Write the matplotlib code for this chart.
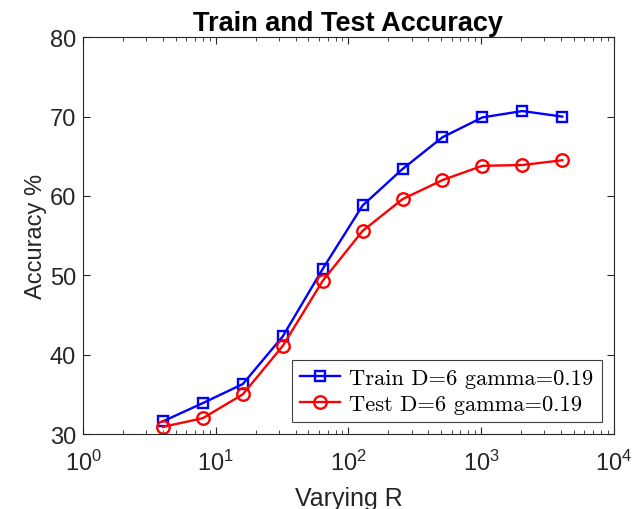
import numpy as np
import matplotlib.pyplot as plt

# number of random features R and accuracies (%)
R = [4, 8, 16, 32, 64, 128, 256, 512, 1024, 2048, 4096]
train_acc = [31.6, 33.9, 36.3, 42.3, 50.8, 58.8, 63.4, 67.4, 69.9, 70.7, 70.0]
test_acc = [30.9, 32.0, 35.0, 41.1, 49.3, 55.6, 59.6, 62.0, 63.8, 63.9, 64.5]

plt.rcParams['font.family'] = ['Liberation Sans', 'DejaVu Sans']
plt.rcParams['mathtext.default'] = 'regular'


def plot_accuracy():
    fig = plt.figure(figsize=(6.34, 5.10), dpi=100)
    ax = fig.add_axes([0.131, 0.147, 0.837, 0.778])

    ax.semilogx(R, train_acc, '-s', color='blue', lw=1.7, ms=7.5,
                mfc='none', mew=1.7, label='Train D=6 gamma=0.19')
    ax.semilogx(R, test_acc, '-o', color='red', lw=1.7, ms=9,
                mfc='none', mew=1.7, label='Test D=6 gamma=0.19')

    ax.set_xlim(1, 1e4)
    ax.set_ylim(30, 80)
    ax.set_yticks(np.arange(30, 81, 10))
    ax.tick_params(which='both', direction='in', top=True, right=True,
                   labelsize=17, colors='#262626')
    ax.tick_params(which='major', length=5, width=0.8, pad=5)
    ax.tick_params(axis='x', which='major', pad=11)
    ax.tick_params(which='minor', length=3, width=0.6)
    for s in ax.spines.values():
        s.set_color('#262626')
        s.set_linewidth(0.8)

    ax.set_title('Train and Test Accuracy', fontsize=19.5, fontweight='bold', pad=5)
    ax.set_xlabel('Varying R', fontsize=18, color='#262626', labelpad=8)
    ax.set_ylabel('Accuracy %', fontsize=17, color='#262626', labelpad=2)

    leg = ax.legend(loc='lower right', bbox_to_anchor=(0.977, 0.03),
                    prop={'family': 'cmr10', 'size': 16.2}, fancybox=False,
                    framealpha=1, edgecolor='#404040', handlelength=1.8,
                    borderpad=0.35, labelspacing=0.3, handletextpad=0.4,
                    borderaxespad=0)
    leg.get_frame().set_linewidth(0.8)

    fig.savefig('out.png', dpi=100)


if __name__ == '__main__':
    plot_accuracy()
